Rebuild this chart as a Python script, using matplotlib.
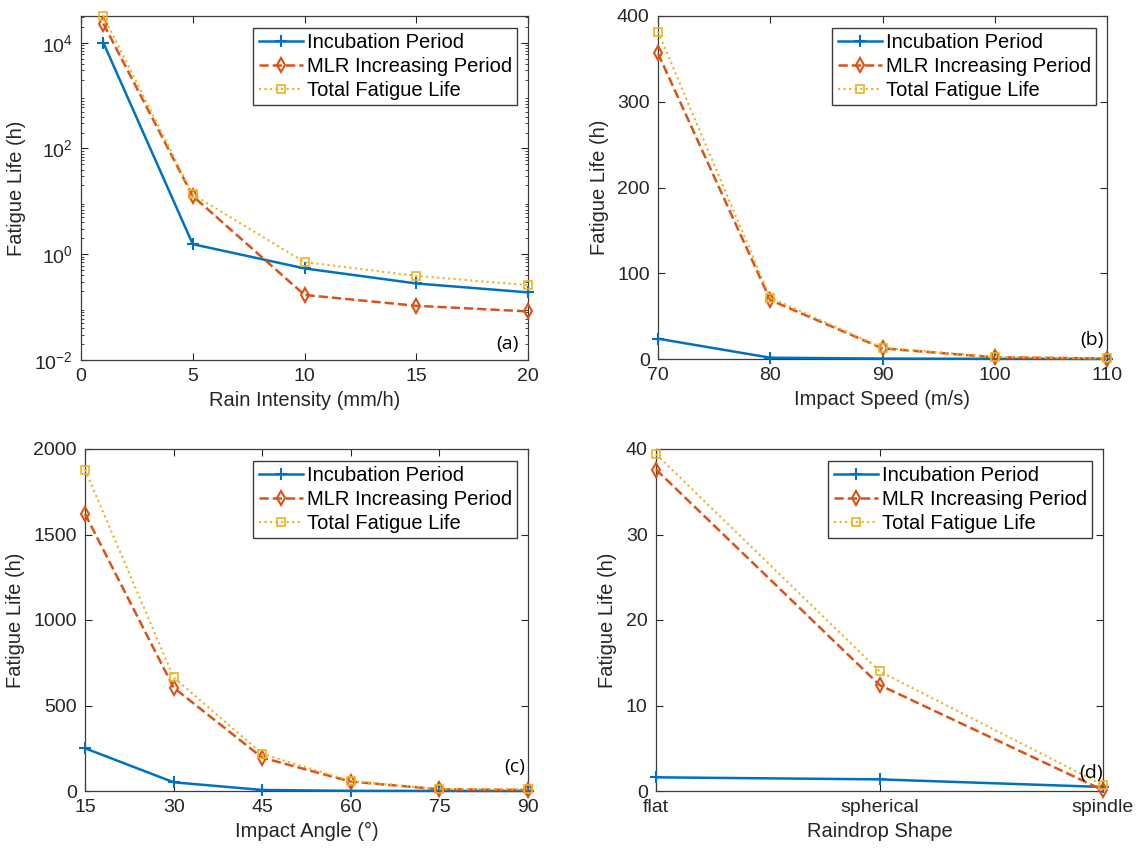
import numpy as np
import matplotlib
matplotlib.use('Agg')
import matplotlib.pyplot as plt

plt.rcParams['font.family'] = ['Liberation Sans', 'DejaVu Sans']
plt.rcParams['mathtext.fontset'] = 'custom'
plt.rcParams['mathtext.rm'] = 'Liberation Sans'

# (a) rain intensity
rain = [1, 5, 10, 15, 20]
rain_inc = [1.0e4, 1.55, 0.54, 0.28, 0.19]
rain_mlr = [2.3e4, 12.6, 0.17, 0.106, 0.083]
rain_tot = [3.2e4, 13.5, 0.71, 0.39, 0.26]

# (b) impact speed
speed = [70, 80, 90, 100, 110]
speed_inc = [23.7, 1.5, 0.5, 0.2, 0.1]
speed_mlr = [356.5, 68.8, 12.4, 2.0, 0.5]
speed_tot = [381.7, 71.5, 13.2, 2.5, 0.6]

# (c) impact angle
angle = [15, 30, 45, 60, 75, 90]
angle_inc = [250, 51, 6, 1, 0.5, 0.2]
angle_mlr = [1621, 605, 195, 55, 10, 6]
angle_tot = [1879, 665, 217, 58, 12, 10]

# (d) raindrop shape
shapes = ['flat', 'spherical', 'spindle']
shape_inc = [1.6, 1.36, 0.47]
shape_mlr = [37.6, 12.4, 0.1]
shape_tot = [39.4, 14.0, 0.7]

blue = '#0072BD'
orange = '#D95319'
yellow = '#EDB120'
names = ['Incubation Period', 'MLR Increasing Period', 'Total Fatigue Life']

W, H = 1138, 850
fig = plt.figure(figsize=(W / 100, H / 100), dpi=100)


def make_ax(left, right, top, bottom):
    return fig.add_axes([left / W, 1 - bottom / H, (right - left) / W, (bottom - top) / H])


def draw(ax, x, inc, mlr, tot, xlabel, tag, tagpos):
    ax.plot(x, inc, '-', color=blue, lw=1.8, marker='+', ms=8, mew=1.5,
            label=names[0], clip_on=False, zorder=3)
    ax.plot(x, mlr, '--', color=orange, lw=1.8, marker='d', ms=7, mfc='none', mew=1.5,
            label=names[1], clip_on=False, zorder=3)
    ax.plot(x, tot, ':', color=yellow, lw=1.5, marker='s', ms=6, mfc='none', mew=1.2,
            label=names[2], clip_on=False, zorder=3)
    ax.set_xlabel(xlabel, fontsize=14.5, color='#262626', labelpad=4)
    ax.set_ylabel('Fatigue Life (h)', fontsize=14.5, color='#262626', labelpad=6)
    ax.tick_params(which='both', direction='in', top=True, right=True,
                   labelsize=14, colors='#262626', pad=6)
    ax.tick_params(which='major', length=5)
    for s in ax.spines.values():
        s.set_color('#3c3c3c')
        s.set_linewidth(0.9)
    w = ax.get_position().width * W
    h = ax.get_position().height * H
    leg = ax.legend(loc='upper right', bbox_to_anchor=(1 - 11 / w, 1 - 12 / h),
                    borderaxespad=0, fontsize=14.5, fancybox=False, framealpha=1,
                    edgecolor='#3c3c3c', handlelength=2.2, handletextpad=0.2,
                    borderpad=0.25, labelspacing=0.25)
    leg.get_frame().set_linewidth(1.0)
    ax.text(tagpos[0], tagpos[1], tag, transform=ax.transAxes, ha='right', va='bottom',
            fontsize=14, family=['Open Sans', 'DejaVu Sans'])


ax1 = make_ax(81, 528, 16, 360)
ax1.set_yscale('log')
draw(ax1, rain, rain_inc, rain_mlr, rain_tot, 'Rain Intensity (mm/h)', '(a)', (0.98, 0.02))
ax1.set_xlim(0, 20)
ax1.set_xticks([0, 5, 10, 15, 20])
ax1.set_ylim(1e-2, 3.2e4)
ax1.set_yticks([1e-2, 1, 1e2, 1e4])

ax2 = make_ax(658, 1107, 16, 359)
draw(ax2, speed, speed_inc, speed_mlr, speed_tot, 'Impact Speed (m/s)', '(b)', (0.993, 0.03))
ax2.set_xlim(70, 110)
ax2.set_xticks([70, 80, 90, 100, 110])
ax2.set_ylim(0, 400)
ax2.set_yticks([0, 100, 200, 300, 400])

ax3 = make_ax(85, 528, 449, 791)
draw(ax3, angle, angle_inc, angle_mlr, angle_tot, 'Impact Angle (°)', '(c)', (0.993, 0.045))
ax3.set_xlim(15, 90)
ax3.set_xticks(angle)
ax3.set_ylim(0, 2000)
ax3.set_yticks([0, 500, 1000, 1500, 2000])

ax4 = make_ax(656, 1103, 449, 791)
xs = np.arange(1, len(shapes) + 1)
draw(ax4, xs, shape_inc, shape_mlr, shape_tot, 'Raindrop Shape', '(d)', (0.999, 0.025))
ax4.set_xlim(1, 3)
ax4.set_xticks(xs)
ax4.set_xticklabels(shapes)
ax4.set_ylim(0, 40)
ax4.set_yticks([0, 10, 20, 30, 40])

fig.savefig('out.png', dpi=100)
